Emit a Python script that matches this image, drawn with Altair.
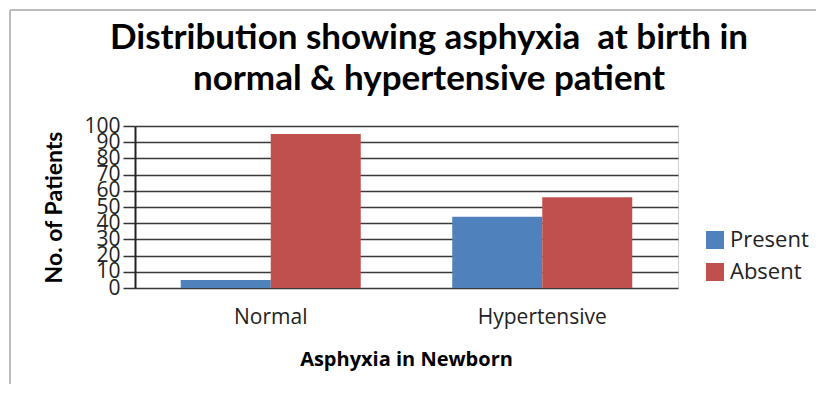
import altair as alt
import pandas as pd

categories = ["Normal", "Hypertensive"]
series = ["Present", "Absent"]
present_values = [5, 44]
absent_values = [95, 56]
y_ticks = [0, 10, 20, 30, 40, 50, 60, 70, 80, 90, 100]
colors = ["#4F81BD", "#C0504D"]
title_lines = ["Distribution showing asphyxia\u00a0 at birth in", "normal & hypertensive patient"]

rows = []
for i, c in enumerate(categories):
    rows.append({"Group": c, "Asphyxia": "Present", "Patients": present_values[i]})
    rows.append({"Group": c, "Asphyxia": "Absent", "Patients": absent_values[i]})
df = pd.DataFrame(rows)

bars = alt.Chart(df).mark_bar().encode(
    x=alt.X("Group:N", sort=categories,
            scale=alt.Scale(paddingInner=0.337, paddingOuter=0.1685),
            axis=alt.Axis(title="Asphyxia in Newborn", labelAngle=0, domain=False, ticks=False,
                          labelFont="Open Sans", labelFontSize=21, labelColor="#222",
                          labelPadding=18,
                          titleFont="Open Sans", titleFontSize=20, titleFontWeight="bold",
                          titleColor="#000", titleX=271, titleY=71, titleBaseline="middle")),
    xOffset=alt.XOffset("Asphyxia:N", sort=series),
    y=alt.Y("Patients:Q", scale=alt.Scale(domain=[0, 100], nice=False),
            axis=alt.Axis(title="No. of Patients", values=y_ticks, labelOverlap=False,
                          labelFont="Open Sans", labelFontSize=21, labelColor="#222",
                          labelPadding=3, tickSize=12, tickColor="#333", tickWidth=1.5,
                          domainColor="#222", domainWidth=2,
                          grid=True, gridColor="#3a3a3a", gridWidth=1.5,
                          titleFont="Lato", titleFontSize=23, titleFontWeight="bold",
                          titleColor="#000", titleAngle=270, titleX=-81, titleY=81,
                          titleAlign="center", titleBaseline="middle")),
    color=alt.Color("Asphyxia:N", sort=series,
                    scale=alt.Scale(domain=series, range=colors),
                    legend=alt.Legend(title=None, orient="none", legendX=569, legendY=103,
                                      symbolType="square", symbolSize=324,
                                      symbolStrokeWidth=0, labelFont="Open Sans",
                                      labelFontSize=22, labelColor="#222",
                                      labelOffset=4, rowPadding=10)),
)

title_df = pd.DataFrame({"line": title_lines, "idx": [0, 1]})
title_base = alt.Chart(title_df).mark_text(
    font="Lato", fontSize=35, fontWeight="bold", color="#000",
    align="center", baseline="middle")
title1 = title_base.transform_filter("datum.idx == 0").encode(
    text="line:N", x=alt.value(294), y=alt.value(-88))
title2 = title_base.transform_filter("datum.idx == 1").encode(
    text="line:N", x=alt.value(294), y=alt.value(-47))

frame_df = pd.DataFrame({"k": [0]})
left_border = alt.Chart(frame_df).mark_rule(color="#a6a6a6", strokeWidth=1.5).encode(
    x=alt.value(-125), y=alt.value(-116), y2=alt.value(300))
top_border = alt.Chart(frame_df).mark_rule(color="#a6a6a6", strokeWidth=1.5).encode(
    x=alt.value(-125), x2=alt.value(720), y=alt.value(-116))

chart = alt.layer(bars, title1, title2, left_border, top_border).properties(
    width=543, height=162,
    autosize=alt.AutoSizeParams(type="none"),
    padding={"left": 127, "top": 118, "right": 138, "bottom": 96},
).configure_view(stroke="#d0d0d0")

chart.save("out.html", embed_options={"renderer": "svg", "actions": False})
